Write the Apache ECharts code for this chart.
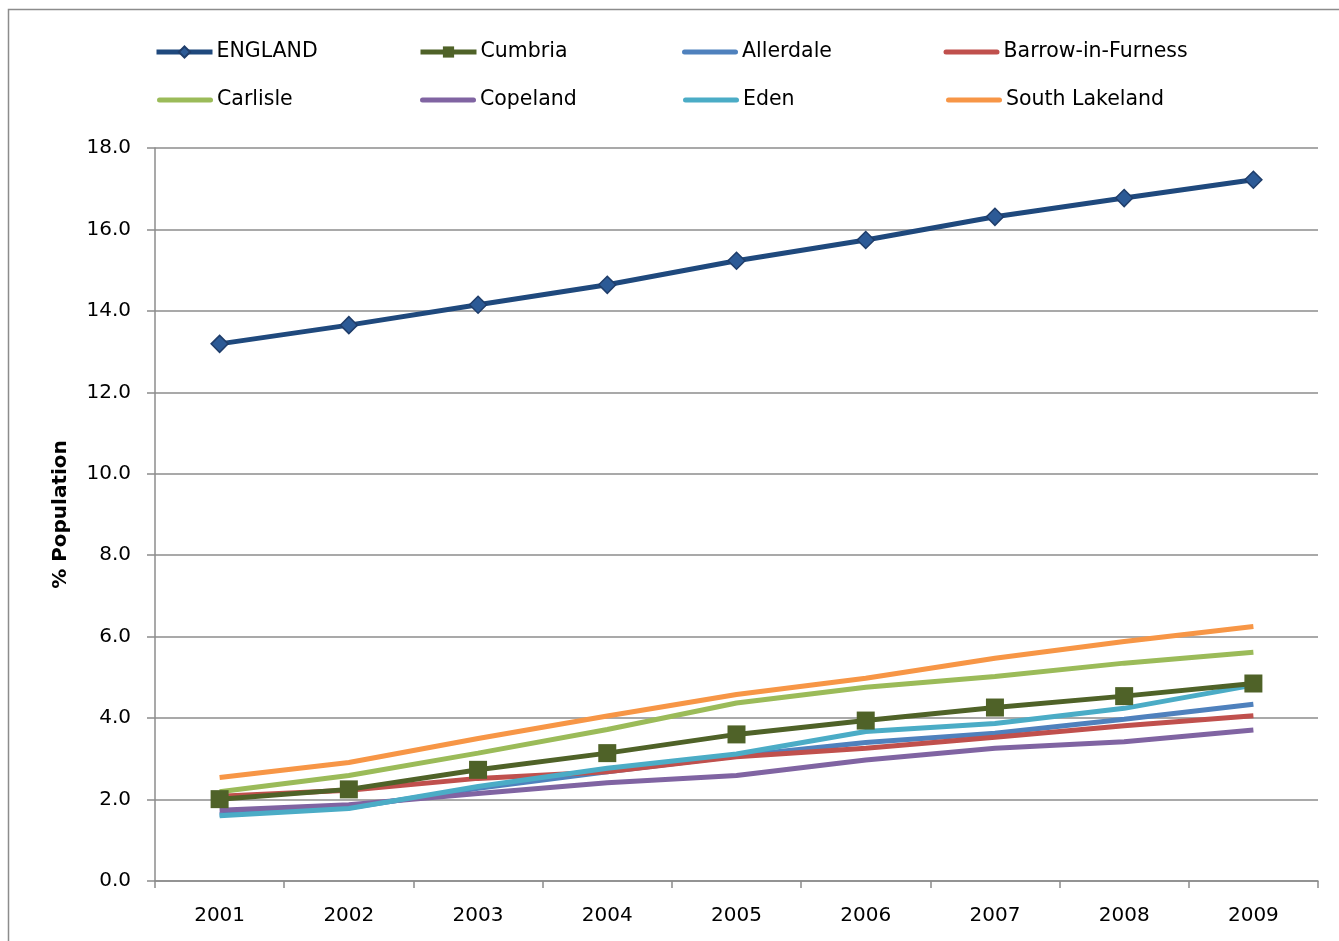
<!DOCTYPE html>
<html>
<head>
<meta charset="utf-8">
<script src="https://cdn.jsdelivr.net/npm/echarts@6/dist/echarts.min.js"></script>
<style>html,body{margin:0;padding:0;background:#fff}#c{width:1339px;height:941px}</style>
</head>
<body>
<div id="c"></div>
<script>
const years = ['2001','2002','2003','2004','2005','2006','2007','2008','2009'];
const england = [13.19, 13.65, 14.15, 14.64, 15.23, 15.74, 16.31, 16.77, 17.22];
const cumbria = [2.01, 2.25, 2.73, 3.14, 3.60, 3.94, 4.26, 4.54, 4.85];
const allerdale = [1.63, 1.80, 2.28, 2.68, 3.07, 3.40, 3.63, 3.97, 4.34];
const barrow = [2.08, 2.23, 2.52, 2.68, 3.05, 3.26, 3.53, 3.81, 4.06];
const carlisle = [2.19, 2.59, 3.14, 3.72, 4.37, 4.76, 5.02, 5.35, 5.62];
const copeland = [1.74, 1.87, 2.15, 2.41, 2.59, 2.97, 3.26, 3.42, 3.71];
const eden = [1.60, 1.78, 2.32, 2.77, 3.12, 3.67, 3.87, 4.24, 4.81];
const southLakeland = [2.54, 2.91, 3.50, 4.05, 4.58, 4.98, 5.47, 5.88, 6.25];
const yTicks = [0, 2, 4, 6, 8, 10, 12, 14, 16, 18];

const font = 'DejaVu Sans';
const LW = 5;
const chart = echarts.init(document.getElementById('c'), null, {renderer: 'canvas'});

function plain(name, data, color) {
  return {name, type: 'line', data, symbol: 'none', showSymbol: false,
    lineStyle: {color, width: LW}, itemStyle: {color}, z: 2};
}
const barIcon = 'path://M2.5,0 L53.5,0 A2.5,2.5 0 0 1 53.5,5 L2.5,5 A2.5,2.5 0 0 1 2.5,0 Z';
function legItem(name, plainLine) {
  return plainLine ? {name, icon: barIcon} : {name};
}

const legendCommon = {
  orient: 'horizontal', itemWidth: 56, itemHeight: 14, itemGap: 13, padding: 0,
  lineStyle: {width: LW},
  textStyle: {fontFamily: font, fontSize: 20.5, color: '#000', width: 190, lineHeight: 24, padding: [0,0,0,-1]}
};

chart.setOption({
  animation: false,
  backgroundColor: '#fff',
  graphic: [{type: 'rect', shape: {x: 8.5, y: 9.5, width: 1400, height: 1000},
    style: {fill: 'none', stroke: '#8c8c8c', lineWidth: 1.5}, silent: true}],
  legend: [
    Object.assign({}, legendCommon, {left: 154, top: 40, itemGap: 11.5, data: [legItem('ENGLAND'), legItem('Cumbria'), legItem('Allerdale', true), legItem('Barrow-in-Furness', true)]}),
    Object.assign({}, legendCommon, {left: 157, top: 88, data: [legItem('Carlisle', true), legItem('Copeland', true), legItem('Eden', true), legItem('South Lakeland', true)]})
  ],
  grid: {left: 155, right: 21, top: 148, bottom: 60},
  xAxis: {
    type: 'category', data: years, boundaryGap: true,
    axisLine: {lineStyle: {color: '#8c8c8c', width: 1.5}},
    axisTick: {show: true, length: 7, alignWithLabel: false, lineStyle: {color: '#8c8c8c', width: 1.5}},
    axisLabel: {fontFamily: font, fontSize: 20, color: '#000', margin: 25}
  },
  yAxis: {
    type: 'value', min: 0, max: 18, interval: 2,
    name: '% Population', nameLocation: 'middle', nameGap: 84,
    nameTextStyle: {fontFamily: font, fontSize: 20, fontWeight: 'bold', color: '#000'},
    axisLine: {show: true, lineStyle: {color: '#8c8c8c', width: 1.5}},
    axisTick: {show: true, length: 8, lineStyle: {color: '#8c8c8c', width: 1.5}},
    axisLabel: {fontFamily: font, fontSize: 20, color: '#000', margin: 24,
      formatter: v => yTicks.includes(v) ? v.toFixed(1) : ''},
    splitLine: {lineStyle: {color: '#8c8c8c', width: 1.5}}
  },
  series: [
    {name: 'ENGLAND', type: 'line', data: england, symbol: 'diamond', symbolSize: 17,
      lineStyle: {color: '#1F497D', width: LW},
      itemStyle: {color: '#2C5A96', borderColor: '#1F3D6A', borderWidth: 1.5}, z: 5},
    {name: 'Cumbria', type: 'line', data: cumbria, symbol: 'rect', symbolSize: 18,
      lineStyle: {color: '#4F6228', width: LW},
      itemStyle: {color: '#4F6228'}, z: 4},
    plain('Allerdale', allerdale, '#4F81BD'),
    plain('Barrow-in-Furness', barrow, '#C0504D'),
    plain('Carlisle', carlisle, '#9BBB59'),
    plain('Copeland', copeland, '#8064A2'),
    plain('Eden', eden, '#4BACC6'),
    plain('South Lakeland', southLakeland, '#F79646')
  ]
});
</script>
</body>
</html>
